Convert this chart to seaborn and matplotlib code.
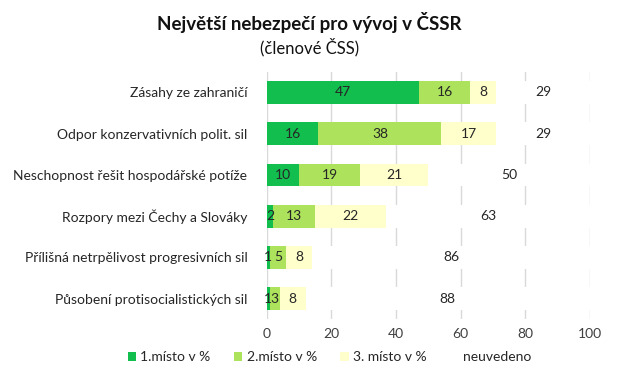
import numpy as np
import matplotlib
matplotlib.use("Agg")
import matplotlib.pyplot as plt
from matplotlib.patches import Patch
import seaborn as sns

categories = [
    "Zásahy ze zahraničí",
    "Odpor konzervativních polit. sil",
    "Neschopnost řešit hospodářské potíže",
    "Rozpory mezi Čechy a Slováky",
    "Přílišná netrpělivost progresivních sil",
    "Působení protisocialistických sil",
]
first = [47, 16, 10, 2, 1, 1]
second = [16, 38, 19, 13, 5, 3]
third = [8, 17, 21, 22, 8, 8]
unknown = [29, 29, 50, 63, 86, 88]

series_names = ["1.místo v %", "2.místo v %", "3. místo v %", "neuvedeno"]
colors = ["#12BE4E", "#ADE25C", "#FFFFCC", "#FFFFFF"]

sns.set_theme(style="white")
plt.rcParams["font.family"] = ["Lato", "DejaVu Sans"]

fig = plt.figure(figsize=(6.19, 3.74), dpi=100)
ax = fig.add_axes([0.431, 0.146, 0.522, 0.662])

series = [np.array(first), np.array(second), np.array(third), np.array(unknown)]
cum = np.cumsum(series, axis=0)

# draw cumulative bars from the longest down so they look stacked
for i in range(3, -1, -1):
    sns.barplot(x=cum[i], y=categories, orient="h", color=colors[i],
                width=0.55, saturation=1, linewidth=0, ax=ax, zorder=2)

for i, vals in enumerate(series):
    starts = cum[i] - vals
    for j, v in enumerate(vals):
        ax.text(starts[j] + v / 2, j, str(v), ha="center", va="center",
                fontsize=10, color="#262626", zorder=3)

ax.set_xlim(0, 100)
ax.set_xticks(range(0, 101, 20))
ax.xaxis.grid(True, color="#D9D9D9", linewidth=1, zorder=0)
ax.set_axisbelow(True)
ax.yaxis.grid(False)
for s in ax.spines.values():
    s.set_visible(False)
ax.set_xlabel("")
ax.set_ylabel("")
ax.tick_params(axis="x", labelsize=10, colors="#404040", length=0, pad=6)
ax.tick_params(axis="y", labelsize=10, colors="#262626", length=0, pad=14)

fig.text(0.5, 0.94, "Největší nebezpečí pro vývoj v ČSSR", ha="center",
         va="center", fontsize=13.5, fontweight="bold", color="#111111")
fig.text(0.5, 0.875, "(členové ČSS)", ha="center", va="center",
         fontsize=12, color="#111111")

handles = [Patch(facecolor=c, edgecolor="none") for c in colors]
fig.legend(handles, series_names, loc="lower center", ncol=4,
           bbox_to_anchor=(0.532, -0.005), frameon=False, fontsize=10,
           handlelength=0.6, handleheight=0.6, handletextpad=0.3,
           columnspacing=1.7, labelcolor="#262626")

fig.savefig("out.png", dpi=100)
